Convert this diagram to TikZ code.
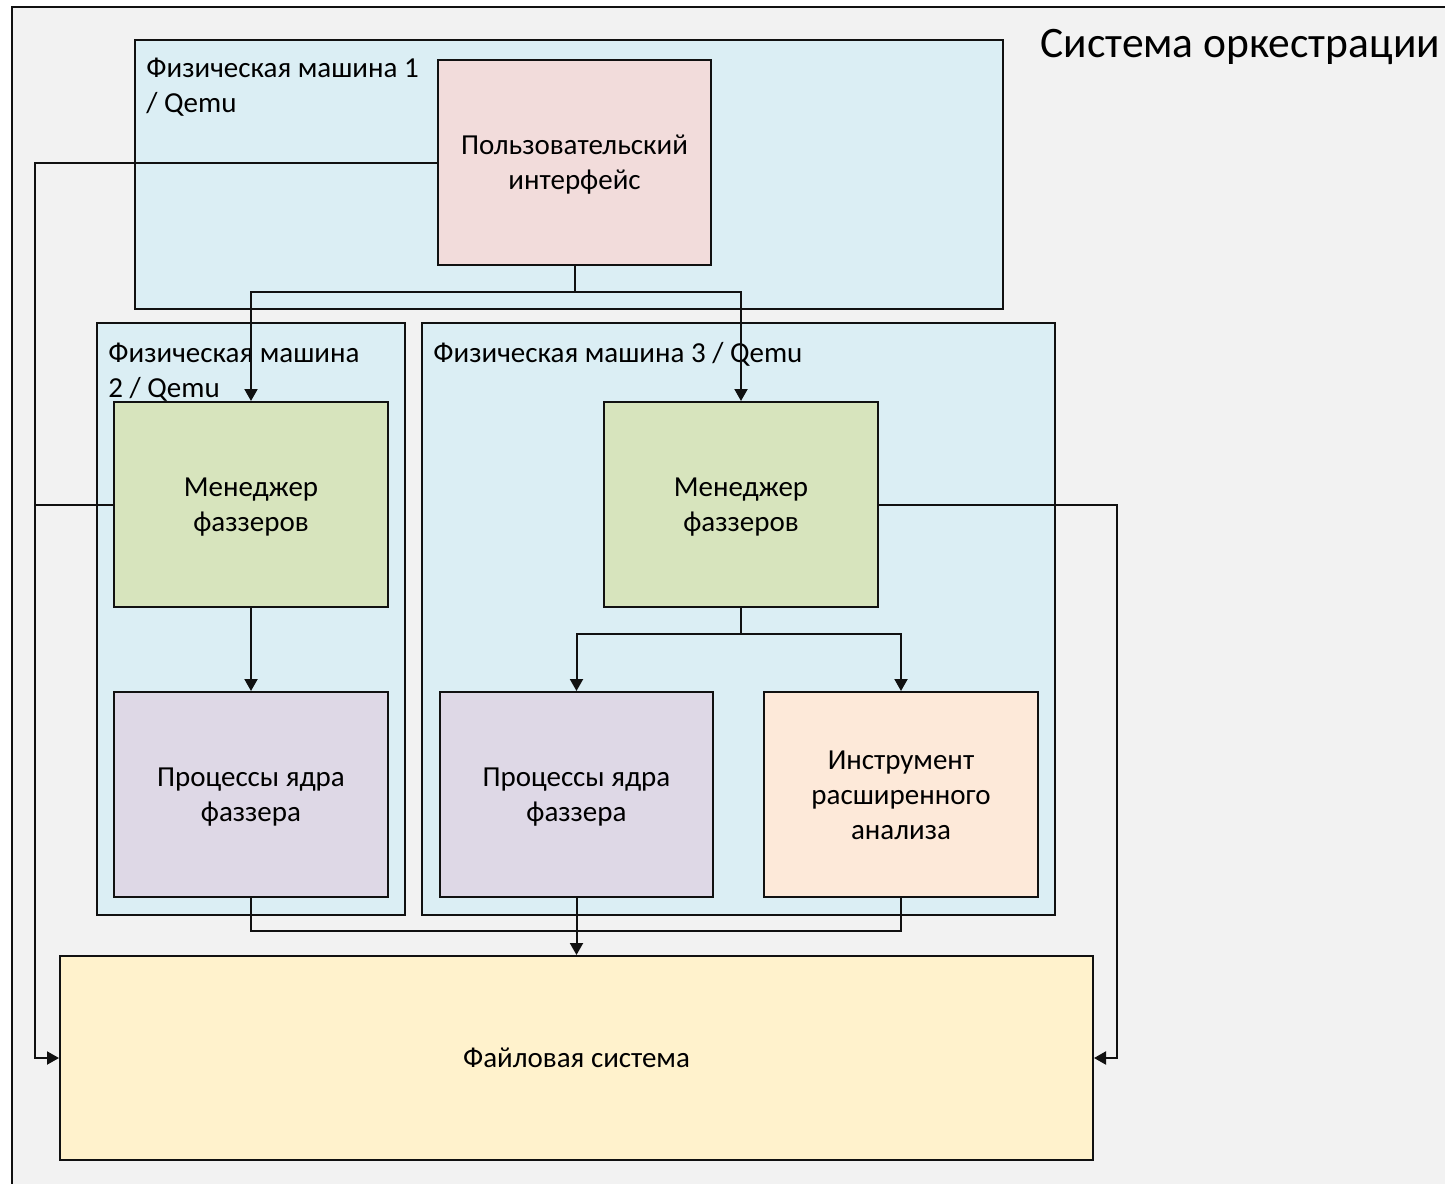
\documentclass[tikz,border=0pt]{standalone}
\usepackage{fontspec}
\setmainfont{Carlito}
\usepackage{tikz}
\usetikzlibrary{arrows.meta,positioning,calc}
\usepackage{xcolor}
\definecolor{Frame}{HTML}{F2F2F2}
\definecolor{Host}{HTML}{DBEEF4}
\definecolor{UiFill}{HTML}{F2DCDB}
\definecolor{MgrFill}{HTML}{D7E4BD}
\definecolor{ProcFill}{HTML}{DED8E6}
\definecolor{ToolFill}{HTML}{FDE9D9}
\definecolor{FsFill}{HTML}{FFF2CC}
\definecolor{Ink}{HTML}{111111}
\newcommand{\wstrut}{\rule[-3.86pt]{0pt}{17.5pt}}

\begin{document}
\begin{tikzpicture}[x=0.5pt,y=-0.5pt,
  box/.style={draw=Ink,line width=1pt,inner sep=0pt,align=center,font=\fontsize{14.5}{17.5}\selectfont},
  host/.style={box,fill=Host},
  conn/.style={draw=Ink,line width=1pt,-{Triangle[width=6.5pt,length=6pt]}},
  wire/.style={draw=Ink,line width=1pt},
  hostlbl/.style={inner sep=0pt,align=left,font=\fontsize{14.5}{17.5}\selectfont}]
\useasboundingbox (0,0) rectangle (1445,1183);
\clip (0,0) rectangle (1445,1183);
\fill[white] (0,0) rectangle (1445,1183);
\draw[Ink,line width=1pt,fill=Frame] (12,7) rectangle (1470,1210);
\node[anchor=base west,inner sep=0pt,font=\fontsize{21.75}{26}\selectfont] (title) at (1040,57) {Система оркестрации};
% hosts
\node[host,minimum width=434pt,minimum height=134.5pt] (m1) at (569,174.5) {};
\node[host,minimum width=154pt,minimum height=296pt] (m2) at (251,619) {};
\node[host,minimum width=316.5pt,minimum height=296pt] (m3) at (738.5,619) {};
\node[hostlbl,anchor=north west] (m1lbl) at (146,49.5) {\wstrut Физическая машина 1\\\wstrut / Qemu};
\node[hostlbl,anchor=north west] (m2lbl) at (108,334.5) {\wstrut Физическая машина\\\wstrut 2 / Qemu};
\node[hostlbl,anchor=north west] (m3lbl) at (433,334.5) {\wstrut Физическая машина 3 / Qemu};
% components
\node[box,fill=UiFill,minimum width=136.5pt,minimum height=102.5pt] (ui) at (574.5,162.5) {\wstrut Пользовательский\\\wstrut интерфейс};
\node[box,fill=MgrFill,minimum width=137pt,minimum height=102.5pt] (mgrA) at (251,504.5) {\wstrut Менеджер\\\wstrut фаззеров};
\node[box,fill=MgrFill,minimum width=137pt,minimum height=102.5pt] (mgrB) at (741,504.5) {\wstrut Менеджер\\\wstrut фаззеров};
\node[box,fill=ProcFill,minimum width=137pt,minimum height=102.5pt] (procA) at (251,794.5) {\wstrut Процессы ядра\\\wstrut фаззера};
\node[box,fill=ProcFill,minimum width=136.5pt,minimum height=102.5pt] (procB) at (576.5,794.5) {\wstrut Процессы ядра\\\wstrut фаззера};
\node[box,fill=ToolFill,minimum width=137pt,minimum height=102.5pt] (tool) at (901,794.5) {\wstrut Инструмент\\\wstrut расширенного\\\wstrut анализа};
\node[box,fill=FsFill,minimum width=516.5pt,minimum height=102pt] (fs) at (576.5,1058) {\wstrut Файловая система};
% wiring
\coordinate (lbus) at (35,0);
\coordinate (rbus) at (1117,0);
\draw[conn] (ui.south) -- ++(0,26) -| (mgrA.north);
\draw[conn] (ui.south) -- ++(0,26) -| (mgrB.north);
\draw[conn] (ui.west) -- (ui.west -| lbus) |- (fs.west);
\draw[wire] (mgrA.west) -- (mgrA.west -| lbus);
\draw[conn] (mgrB.east) -- (mgrB.east -| rbus) |- (fs.east);
\draw[conn] (mgrA.south) -- (procA.north);
\draw[conn] (mgrB.south) -- ++(0,26) -| (procB.north);
\draw[conn] (mgrB.south) -- ++(0,26) -| (tool.north);
\draw[wire] (procA.south) -- ++(0,33) -| (procB.south);
\draw[wire] (tool.south) -- ++(0,33) -| (procB.south);
\draw[conn] (procB.south) -- (fs.north);
\end{tikzpicture}
\end{document}
